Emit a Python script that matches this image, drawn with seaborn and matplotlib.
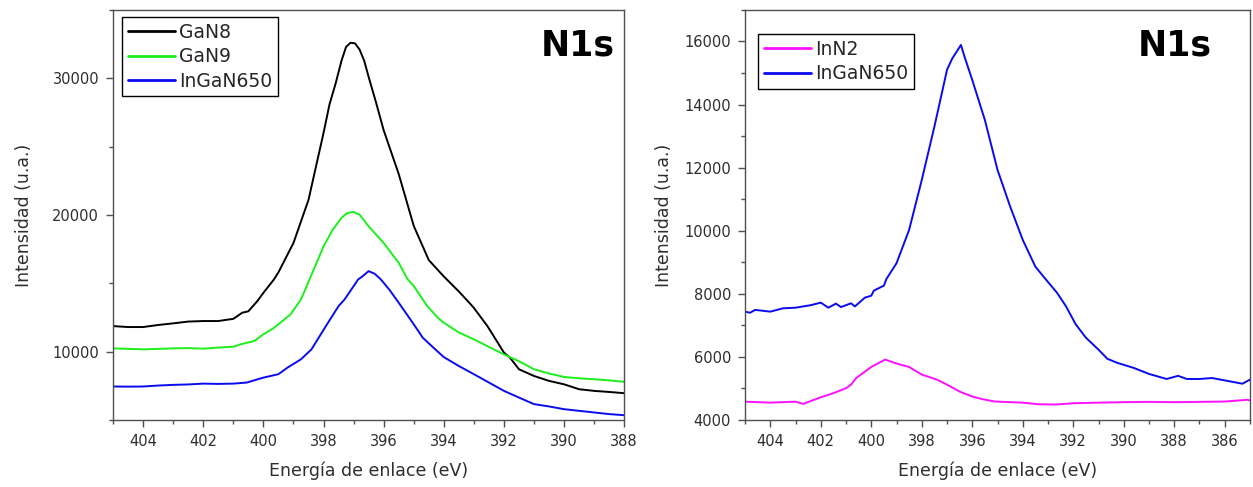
import matplotlib
matplotlib.use('Agg')
import matplotlib.pyplot as plt
import pandas as pd
import seaborn as sns
from matplotlib.ticker import MultipleLocator

# ---- panel izquierdo: GaN8, GaN9, InGaN650 ----
e_gan8 = [405, 404.5, 404, 403.5, 403, 402.5, 402, 401.5, 401, 400.7, 400.5, 400.2, 400, 399.65,
          399.5, 399, 398.5, 398, 397.8, 397.6, 397.4, 397.25, 397.1, 396.95, 396.8, 396.65,
          396.5, 396.25, 396, 395.5, 395, 394.5, 394, 393.9, 393.5, 393.1, 393, 392.55, 392,
          391.8, 391.5, 391, 390.5, 390, 389.5, 389, 388.5, 388]
i_gan8 = [11870, 11800, 11800, 11950, 12070, 12200, 12240, 12240, 12400, 12850, 12950, 13700, 14300, 15280,
          15800, 17950, 21100, 26000, 28100, 29600, 31300, 32300, 32600, 32550, 32100, 31300,
          30100, 28200, 26200, 23000, 19200, 16700, 15500, 15280, 14400, 13450, 13200, 11870, 9930,
          9560, 8710, 8220, 7860, 7610, 7250, 7130, 7050, 6960]

e_gan9 = [405, 404.5, 404, 403.5, 403, 402.5, 402, 401.5, 401, 400.76, 400.3, 400, 399.64, 399.1,
          398.75, 398.5, 398, 397.7, 397.4, 397.2, 397, 396.8, 396.5, 396, 395.5, 395.2, 395, 394.55,
          394.2, 394, 393.5, 393, 392.45, 392, 391.5, 391, 390.5, 390, 389.5, 389, 388.5, 388]
i_gan9 = [10240, 10200, 10170, 10200, 10240, 10260, 10220, 10300, 10360, 10535, 10780, 11270, 11750, 12720,
          13820, 15100, 17700, 18900, 19800, 20150, 20220, 20020, 19170, 17950, 16500, 15280, 14800, 13330,
          12480, 12120, 11400, 10900, 10290, 9800, 9300, 8710, 8400, 8150, 8050, 7980, 7900, 7790]

e_ingan_l = [405, 404.5, 404, 403.5, 403, 402.5, 402, 401.5, 401, 400.55, 400, 399.5, 399.2, 398.75,
             398.4, 397.85, 397.5, 397.3, 397, 396.85, 396.7, 396.5, 396.3, 396.1, 395.8, 395.5, 395,
             394.7, 394.3, 394, 393.5, 393, 392.5, 392, 391.5, 391, 390.5, 390, 389.5, 389, 388.5, 388]
i_ingan_l = [7450, 7440, 7450, 7520, 7570, 7600, 7660, 7640, 7660, 7740, 8100, 8350, 8830, 9440,
             10170, 12120, 13330, 13820, 14790, 15280, 15520, 15890, 15700, 15300, 14500, 13580, 12000,
             11020, 10200, 9600, 8950, 8350, 7740, 7130, 6640, 6160, 5990, 5790, 5670, 5550, 5430, 5350]

# ---- panel derecho: InN2, InGaN650 ----
e_inn2 = [405, 404, 403, 402.7, 402, 401.5, 401, 400.8, 400.6, 400, 399.65, 399.45, 399, 398.5,
          398, 397.4, 397, 396.5, 396, 395.6, 395.1, 394, 393.4, 392.7, 392, 391, 390, 389,
          388, 387, 386, 385.1, 385]
i_inn2 = [4580, 4550, 4580, 4510, 4720, 4850, 5010, 5120, 5330, 5680, 5830, 5915, 5790, 5680,
          5440, 5280, 5120, 4900, 4745, 4660, 4585, 4550, 4500, 4490, 4530, 4550, 4565, 4575,
          4565, 4575, 4585, 4640, 4620]

e_ingan_r = [405, 404.8, 404.6, 404, 403.5, 403, 402.4, 402, 401.7, 401.4, 401.2, 400.8, 400.65, 400.25,
             400, 399.9, 399.5, 399.4, 399, 398.5, 398, 397.5, 397, 396.8, 396.6, 396.45, 396.3, 396,
             395.5, 395, 394.5, 394, 393.5, 393.1, 392.65, 392.3, 391.9, 391.5, 391, 390.65, 390.25,
             389.6, 389, 388.3, 387.85, 387.5, 387, 386.5, 386, 385.3, 385]
i_ingan_r = [7435, 7400, 7490, 7435, 7540, 7560, 7640, 7720, 7560, 7690, 7580, 7700, 7600, 7880,
             7940, 8100, 8260, 8470, 8970, 10030, 11610, 13300, 15100, 15450, 15700, 15890, 15500, 14780,
             13510, 11930, 10770, 9710, 8860, 8470, 8040, 7620, 7030, 6610, 6230, 5940, 5810,
             5650, 5460, 5300, 5400, 5300, 5300, 5330, 5255, 5150, 5280]


def long_df(series):
    frames = []
    for name, e, i in series:
        frames.append(pd.DataFrame({'energia': e, 'intensidad': i, 'muestra': name}))
    return pd.concat(frames, ignore_index=True)


df_izq = long_df([('GaN8', e_gan8, i_gan8), ('GaN9', e_gan9, i_gan9), ('InGaN650', e_ingan_l, i_ingan_l)])
df_der = long_df([('InN2', e_inn2, i_inn2), ('InGaN650', e_ingan_r, i_ingan_r)])

sns.set_style('ticks')
plt.rcParams['font.family'] = ['DejaVu Sans']
txt_color = '#2e2e2e'
spine_color = '#505050'

fig = plt.figure(figsize=(12.53, 4.87), dpi=100)
ax1 = fig.add_axes([0.0902, 0.1376, 0.408, 0.842])
ax2 = fig.add_axes([0.5946, 0.1376, 0.403, 0.842])

sns.lineplot(data=df_izq, x='energia', y='intensidad', hue='muestra', estimator=None,
             palette={'GaN8': 'black', 'GaN9': '#1cf01c', 'InGaN650': '#0a0aef'},
             linewidth=1.4, ax=ax1)
sns.lineplot(data=df_der, x='energia', y='intensidad', hue='muestra', estimator=None,
             palette={'InN2': '#ff10ff', 'InGaN650': '#0a0aef'},
             linewidth=1.4, ax=ax2)


def style_axes(ax, xlim, ylim, ymaj, ymin, leg_anchor, title_x, ylabelpad):
    ax.set_xlim(*xlim)
    ax.set_ylim(*ylim)
    ax.xaxis.set_major_locator(MultipleLocator(2))
    ax.xaxis.set_minor_locator(MultipleLocator(1))
    ax.yaxis.set_major_locator(MultipleLocator(ymaj))
    ax.yaxis.set_minor_locator(MultipleLocator(ymin))
    ax.tick_params(which='major', direction='out', length=5, width=1, colors=spine_color,
                   labelcolor=txt_color, labelsize=10.5, pad=5)
    ax.tick_params(which='minor', direction='out', length=3, width=1, colors=spine_color)
    for s in ax.spines.values():
        s.set_visible(True)
        s.set_color(spine_color)
        s.set_linewidth(1)
    ax.set_xlabel('Energía de enlace (eV)', fontsize=12.5, color=txt_color, labelpad=9)
    ax.set_ylabel('Intensidad (u.a.)', fontsize=12.5, color=txt_color, labelpad=ylabelpad)
    leg = ax.legend(title=None, loc='upper left', bbox_to_anchor=leg_anchor, borderaxespad=0,
                    fontsize=13.5, handlelength=2.5, handletextpad=0.25, labelspacing=0.3,
                    borderpad=0.3, fancybox=False, framealpha=1, edgecolor='black')
    leg.get_frame().set_linewidth(1)
    for line in leg.get_lines():
        line.set_linewidth(2)
    ax.text(title_x, 0.89, 'N1s', transform=ax.transAxes, ha='right',
            va='baseline', fontsize=25, fontweight='bold', color='black')


style_axes(ax1, (405, 388), (5000, 35000), 10000, 5000, (0.0176, 0.983), 0.982, 14)
style_axes(ax2, (405, 385), (4000, 17000), 2000, 1000, (0.026, 0.941), 0.925, 8)

fig.savefig('out.png', dpi=100)
